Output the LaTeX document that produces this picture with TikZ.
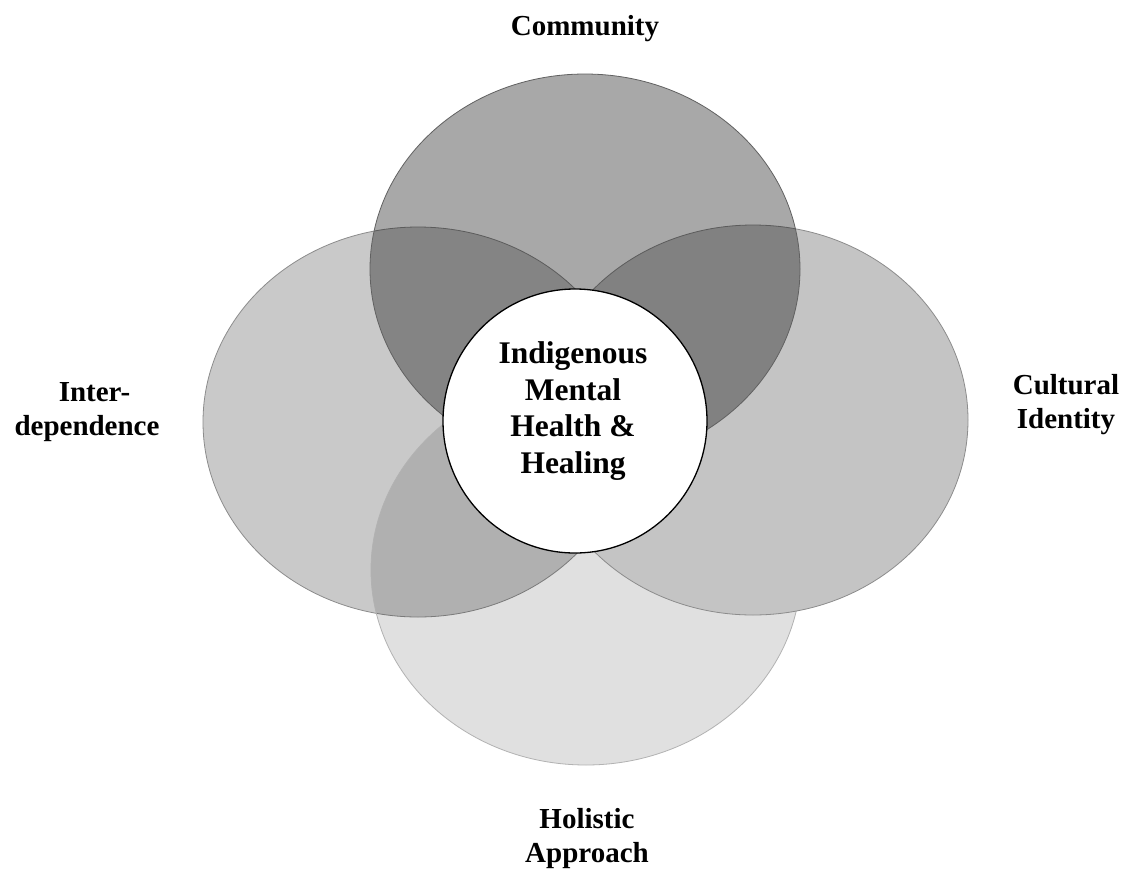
\documentclass[tikz,border=0pt]{standalone}
\usepackage{fontspec}
\setmainfont{Liberation Serif}
\usetikzlibrary{shapes.geometric}
\begin{document}
\begin{tikzpicture}[x=1pt,y=-1pt,
  petal/.style={ellipse, inner sep=0pt, minimum width=430pt, minimum height=390pt, line width=0.8pt},
  lbl/.style={font=\fontsize{29}{34}\selectfont\bfseries, align=center, inner sep=0pt}]
\useasboundingbox[fill=white] (0,0) rectangle (1124,873);
% petals
\node[petal, fill=black, fill opacity=0.21, draw=black!45] (inter) at (418,422) {};
\node[petal, fill=black, fill opacity=0.12, draw=black!30] (hol) at (586,570) {};
\node[petal, fill=black!23, draw=black!45] (cult) at (753,420) {};
\node[petal, fill=black, fill opacity=0.34, draw=black!62] (comm) at (585,269) {};
% core
\node[circle, draw=black, line width=1.3pt, fill=white, minimum size=264pt, inner sep=0pt] (core) at (575,421) {};
\node[lbl, font=\fontsize{31.5}{36.7}\selectfont\bfseries] (coretext) at (573,411) {Indigenous\\Mental\\Health \&\\Healing};
% labels
\node[lbl, anchor=base] (lcomm) at (585,35) {Community};
\node[lbl] (linter) at (87,412) {\hspace*{15pt}Inter-\\dependence};
\node[lbl] (lcult) at (1066,405) {Cultural\\Identity};
\node[lbl] (lhol) at (587,839) {Holistic\\Approach};
\end{tikzpicture}
\end{document}
